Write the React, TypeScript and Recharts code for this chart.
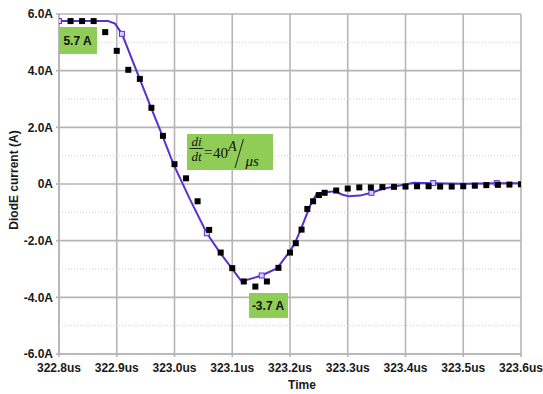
import React from "react";
import {
  ComposedChart,
  Line,
  Scatter,
  XAxis,
  YAxis,
  CartesianGrid,
  ReferenceLine,
} from "recharts";

// Measured diode current (black squares)
const measTime = [
  322.82, 322.84, 322.86, 322.88, 322.9, 322.92, 322.94, 322.96, 322.98, 323.0,
  323.02, 323.04, 323.06, 323.08, 323.1, 323.12, 323.14, 323.16, 323.18, 323.2,
  323.21, 323.22, 323.23, 323.24, 323.25, 323.26, 323.28, 323.3, 323.32, 323.34,
  323.36, 323.38, 323.4, 323.42, 323.44, 323.46, 323.48, 323.5, 323.52, 323.54,
  323.56, 323.58, 323.6,
];
const measCurrent = [
  5.75, 5.75, 5.75, 5.36, 4.7, 4.03, 3.71, 2.69, 1.7, 0.7,
  0.2, -0.61, -1.62, -2.42, -2.97, -3.44, -3.62, -3.44, -2.96, -2.42,
  -2.09, -1.61, -0.88, -0.61, -0.39, -0.31, -0.23, -0.16, -0.12, -0.12,
  -0.11, -0.1, -0.09, -0.08, -0.08, -0.09, -0.09, -0.08, -0.06, -0.04,
  -0.03, -0.02, -0.01,
];

// Simulated diode current (purple line)
const simTime = [
  322.8, 322.885, 322.897, 322.909, 322.959, 322.979, 322.998, 323.027, 323.056,
  323.079, 323.099, 323.116, 323.151, 323.178, 323.198, 323.208, 323.218, 323.235,
  323.246, 323.261, 323.278, 323.29, 323.301, 323.321, 323.341, 323.361, 323.399,
  323.414, 323.448, 323.5, 323.558, 323.6,
];
const simCurrent = [
  5.75, 5.75, 5.66, 5.3, 2.71, 1.71, 0.71, -0.55, -1.74,
  -2.43, -2.97, -3.44, -3.23, -2.97, -2.42, -2.11, -1.64, -0.76,
  -0.35, -0.29, -0.26, -0.37, -0.43, -0.41, -0.31, -0.17, -0.02,
  0.04, 0.03, 0.01, 0.03, 0.03,
];
const simMarkerIdx = [0, 3, 8, 12, 24, 28, 30];

const xTicks = [322.8, 322.9, 323.0, 323.1, 323.2, 323.3, 323.4, 323.5, 323.6];
const yTicks = [-6, -4, -2, 0, 2, 4, 6];
const yMinor = [-5, -3, -1, 1, 3, 5];

const measData = measTime.map((t, k) => ({ t, i: measCurrent[k] }));
const simData = simTime.map((t, k) => ({ t, i: simCurrent[k] }));

const PURPLE = "#5a2fd3";
const GRID = "#b5b5b5";
const GREEN = "#8fcd57";
const LABEL_FONT = "'Liberation Sans', Arial, sans-serif";
const SERIF = "'Liberation Serif', 'Times New Roman', serif";

const fmtX = (v: number) => v.toFixed(1) + "us";
const fmtY = (v: number) => (v === 0 ? "0A" : v.toFixed(1) + "A");

const Square = (props: any) => {
  const { cx, cy } = props;
  if (cx == null || cy == null) return <g />;
  return <rect x={cx - 3} y={cy - 3} width={6} height={6} fill="#000" />;
};

const SimDot = (props: any) => {
  const { cx, cy, index } = props;
  if (!simMarkerIdx.includes(index) || cx == null) return <g key={"d" + index} />;
  return (
    <rect
      key={"d" + index}
      x={cx - 2.5}
      y={cy - 2.5}
      width={5}
      height={5}
      fill="#d8ccff"
      stroke={PURPLE}
      strokeWidth={1}
    />
  );
};

const tickStyle = {
  fontFamily: LABEL_FONT,
  fontSize: 12,
  fontWeight: 700,
  fill: "#1a1a1a",
};

const serifIt = (size: number) => ({ fontFamily: SERIF, fontSize: size, fontStyle: "italic" as const });

export default function App() {
  return (
    <div style={{ position: "absolute", left: 0, top: 0, width: 543, height: 394, background: "#fff" }}>
      <ComposedChart
        width={543}
        height={394}
        margin={{ top: 14, right: 22, left: 0, bottom: 10 }}
      >
        <CartesianGrid stroke={GRID} strokeWidth={1.6} />
        {yMinor.map((v) => (
          <ReferenceLine
            key={v}
            y={v}
            stroke="#cfcfcf"
            strokeWidth={1}
            strokeDasharray="1 2"
          />
        ))}
        <XAxis
          dataKey="t"
          type="number"
          domain={[322.8, 323.6]}
          ticks={xTicks}
          tickFormatter={fmtX}
          height={30}
          tickSize={3}
          tickMargin={6}
          stroke={GRID}
          strokeWidth={1.6}
          tick={tickStyle}
          allowDataOverflow
          interval={0}
        />
        <YAxis
          dataKey="i"
          type="number"
          domain={[-6, 6]}
          ticks={yTicks}
          tickFormatter={fmtY}
          width={59}
          tickSize={3}
          tickMargin={3}
          stroke={GRID}
          strokeWidth={1.6}
          tick={tickStyle}
          interval={0}
        />
        <Line
          data={simData}
          dataKey="i"
          type="linear"
          stroke={PURPLE}
          strokeWidth={2}
          dot={SimDot}
          activeDot={false}
          isAnimationActive={false}
        />
        <Scatter
          data={measData}
          dataKey="i"
          shape={Square}
          isAnimationActive={false}
        />
      </ComposedChart>
      <svg
        width={543}
        height={394}
        style={{ position: "absolute", left: 0, top: 0, pointerEvents: "none" }}
      >
        <rect x={59} y={27} width={38} height={27} fill={GREEN} />
        <text x={77.5} y={44.5} textAnchor="middle" style={{ ...tickStyle, fill: "#111" }}>
          5.7 A
        </text>
        <rect x={249} y={293} width={39} height={25} fill={GREEN} />
        <text x={268} y={309.5} textAnchor="middle" style={{ ...tickStyle, fill: "#111" }}>
          -3.7 A
        </text>
        <rect x={187} y={134} width={86} height={36} fill={GREEN} />
        <g fill="#111">
          <text x={196.5} y={145.5} style={serifIt(13)} textAnchor="middle">di</text>
          <line x1={189.5} x2={203.5} y1={148.5} y2={148.5} stroke="#111" strokeWidth={0.9} />
          <text x={196.5} y={160.5} style={serifIt(13)} textAnchor="middle">dt</text>
          <text x={204} y={157} style={{ fontFamily: SERIF, fontSize: 15 }}>=</text>
          <text x={213} y={158} style={{ fontFamily: SERIF, fontSize: 15 }}>40</text>
          <text x={228} y={151} style={serifIt(14)}>A</text>
          <line x1={243.5} y1={139} x2={235} y2={168} stroke="#111" strokeWidth={0.9} />
          <text x={245.5} y={166} style={serifIt(15)}>μs</text>
        </g>
        <text x={302} y={389} textAnchor="middle" style={tickStyle}>Time</text>
        <text
          x={14}
          y={180}
          textAnchor="middle"
          dominantBaseline="central"
          transform="rotate(-90 14 180)"
          style={tickStyle}
        >
          DiodE current (A)
        </text>
      </svg>
    </div>
  );
}
